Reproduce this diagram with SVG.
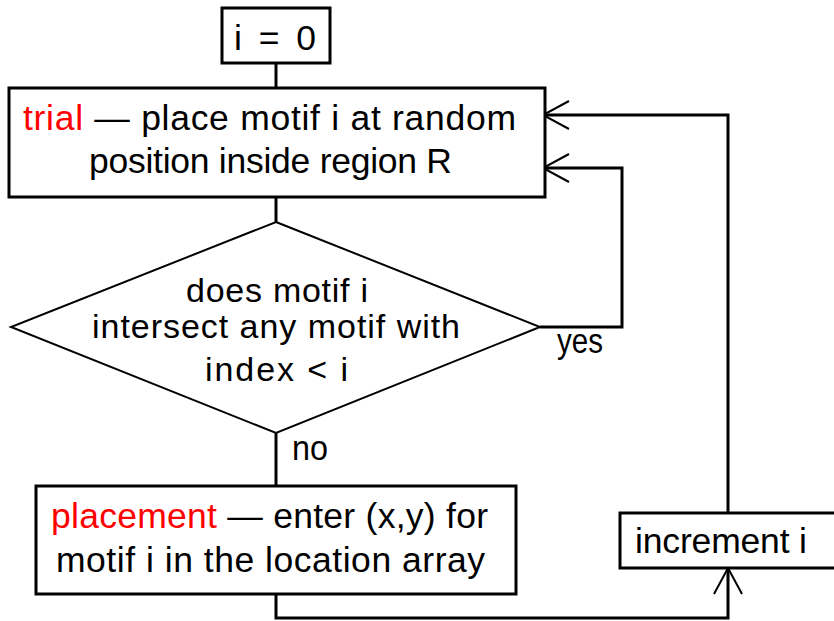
<svg xmlns="http://www.w3.org/2000/svg" width="834" height="621" viewBox="0 0 834 621">
<style>
.box{fill:#fff;stroke:#000;stroke-width:3}
.dia{fill:#fff;stroke:#000;stroke-width:2}
.ln{fill:none;stroke:#000;stroke-width:3}
.ah{fill:none;stroke:#000;stroke-width:2}
text{font-family:"Liberation Sans",Arial,sans-serif;font-size:35.5px;fill:#000}
.dt{font-size:34px}
.red{fill:#ff0000}
</style>
<rect width="834" height="621" fill="#fff"/>
<g id="connectors">
<line class="ln" x1="276" y1="63" x2="276" y2="88"/>
<line class="ln" x1="276" y1="197" x2="276" y2="222"/>
<line class="ln" x1="276" y1="433" x2="276" y2="486"/>
<polyline class="ln" points="540,327 622,327 622,168 543,168"/>
<polyline class="ah" points="569,154 543,168 569,182"/>
<polyline class="ln" points="728,513 728,115 543,115"/>
<polyline class="ah" points="569,101 543,115 569,129"/>
<polyline class="ln" points="276,594 276,618 728,618 728,568"/>
<polyline class="ah" points="714,594 728,568 742,594"/>
<text x="557" y="353" textLength="46" lengthAdjust="spacingAndGlyphs">yes</text>
<text x="292" y="460" textLength="36" lengthAdjust="spacingAndGlyphs">no</text>
</g>
<g id="init">
<rect class="box" x="222" y="8" width="108" height="55"/>
<text x="234" y="50" textLength="82" lengthAdjust="spacing">i = 0</text>
</g>
<g id="trial">
<rect class="box" x="9" y="88" width="536" height="109"/>
<text x="23" y="130" textLength="493" lengthAdjust="spacing"><tspan class="red">trial</tspan> — place motif i at random</text>
<text x="89" y="173" textLength="363" lengthAdjust="spacing">position inside region R</text>
</g>
<g id="decision">
<polygon class="dia" points="276,222 540,327 276,433 11,327"/>
<text class="dt" x="186" y="302" textLength="182" lengthAdjust="spacing">does motif i</text>
<text class="dt" x="92" y="338" textLength="368" lengthAdjust="spacing">intersect any motif with</text>
<text class="dt" x="205" y="381" textLength="143" lengthAdjust="spacing">index &lt; i</text>
</g>
<g id="placement">
<rect class="box" x="36" y="486" width="480" height="108"/>
<text x="51" y="528" textLength="437" lengthAdjust="spacing"><tspan class="red">placement</tspan> — enter (x,y) for</text>
<text x="56" y="572" textLength="429" lengthAdjust="spacing">motif i in the location array</text>
</g>
<g id="increment">
<rect class="box" x="620" y="513" width="230" height="55"/>
<text x="635" y="553" textLength="172" lengthAdjust="spacing">increment i</text>
</g>
</svg>
